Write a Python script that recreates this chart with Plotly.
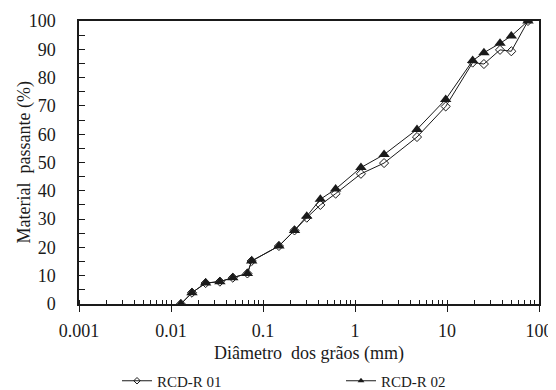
import plotly.graph_objects as go

# Grain diameters (mm)
diam = [0.0128, 0.0169, 0.0238, 0.034, 0.047, 0.0677, 0.0753, 0.149, 0.22, 0.299,
        0.42, 0.616, 1.16, 2.07, 4.72, 9.68, 19.0, 25.2, 37.7, 50.0, 75.9]
# Passing material (%)
rcd_r01 = [0, 4, 7.4, 7.9, 9.3, 10.8, 15.2, 20.5, 26, 30.5,
           35, 39, 46, 49.8, 59, 69.8, 85.3, 84.8, 89.8, 89.3, 100]
rcd_r02 = [0, 4, 7.4, 7.9, 9.3, 10.8, 15.2, 20.5, 26, 31,
           37, 40.6, 48.2, 52.8, 61.7, 72.3, 86, 88.8, 92.1, 94.7, 100]

series_names = ["RCD-R 01", "RCD-R 02"]
x_tickvals = [0.001, 0.01, 0.1, 1, 10, 100]
x_ticktext = ["0.001", "0.01", "0.1", "1", "10", "100"]

FONT = "Liberation Serif, Times New Roman, serif"
INK = "#1a1a1a"

minor_vals = [m * 10 ** e for e in range(-3, 2) for m in range(1, 10)] + [100]

fig = go.Figure()
fig.add_trace(go.Scatter(
    x=diam, y=rcd_r01, mode="lines+markers", name=series_names[0], showlegend=False,
    line=dict(color=INK, width=1),
    marker=dict(symbol="diamond-open", size=7, color=INK, line=dict(width=1, color=INK)),
))
fig.add_trace(go.Scatter(
    x=diam, y=rcd_r02, mode="lines+markers", name=series_names[1], showlegend=False,
    line=dict(color=INK, width=1),
    marker=dict(symbol="triangle-up", size=10, color=INK),
))
# legend entries with small markers
fig.add_trace(go.Scatter(
    x=[None], y=[None], mode="lines+markers", name=series_names[0], legend="legend",
    line=dict(color=INK, width=1),
    marker=dict(symbol="diamond-open", size=5, color=INK, line=dict(width=1, color=INK)),
))
fig.add_trace(go.Scatter(
    x=[None], y=[None], mode="lines+markers", name=series_names[1], legend="legend2",
    line=dict(color=INK, width=1),
    marker=dict(symbol="triangle-up", size=6, color=INK),
))

# figure sits at page offset (8, 8) because of the default body margin
W, H = 548, 382
L, R, T, B = 71, 17, 13, 86
PW = W - L - R
PH = H - T - B

leg_common = dict(
    orientation="h", xanchor="left", y=(H - B - 373) / PH, yanchor="middle",
    font=dict(family=FONT, size=15, color=INK),
    bgcolor="rgba(0,0,0,0)",
)

fig.update_layout(
    width=W, height=H,
    margin=dict(l=L, r=R, t=T, b=B, autoexpand=False),
    paper_bgcolor="white", plot_bgcolor="white",
    font=dict(family=FONT, color=INK, size=17),
    legend=dict(x=(109 - L) / PW, **leg_common),
    legend2=dict(x=(333 - L) / PW, **leg_common),
    annotations=[dict(
        text="Material  passante (%)", textangle=-90,
        xref="paper", yref="paper", x=(16 - L) / PW, y=0.5,
        xanchor="center", yanchor="middle", showarrow=False,
        font=dict(family=FONT, size=18, color=INK),
    )],
)
fig.update_xaxes(
    type="log", range=[-3, 2],
    tickvals=x_tickvals, ticktext=x_ticktext,
    ticks="outside", ticklen=6, tickwidth=1, tickcolor=INK,
    minor=dict(tickvals=minor_vals, ticks="inside", ticklen=4, tickwidth=1, tickcolor=INK),
    showline=True, linecolor=INK, linewidth=1.5, mirror=True,
    showgrid=False, zeroline=False,
    tickfont=dict(family=FONT, size=18, color=INK),
    ticklabelstandoff=4,
    title=dict(text="Diâmetro  dos grãos (mm)", font=dict(family=FONT, size=18, color=INK), standoff=6),
)
fig.update_yaxes(
    range=[0, 100], dtick=10,
    ticks="inside", ticklen=6, tickwidth=1, tickcolor=INK,
    minor=dict(dtick=5, ticks="inside", ticklen=6, tickwidth=1, tickcolor=INK),
    showline=True, linecolor=INK, linewidth=1.5, mirror=True,
    showgrid=False, zeroline=False,
    tickfont=dict(family=FONT, size=18, color=INK),
    ticklabelstandoff=18,
)

fig.write_html("out.html")
